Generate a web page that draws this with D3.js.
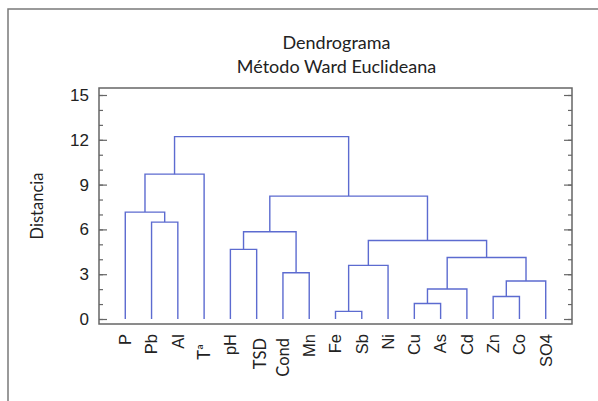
<!DOCTYPE html>
<html>
<head>
<meta charset="utf-8">
<script src="https://cdn.jsdelivr.net/npm/d3@7"></script>
<style>
body { margin: 0; background: #fff; }
text { font-family: "Liberation Sans", Arial, sans-serif; fill: #222; }
.calib { font-family: Lato, "Open Sans", sans-serif; }
</style>
</head>
<body>
<svg id="chart" width="598" height="401"></svg>
<script>
// hojas del dendrograma, en orden de dibujo
const leaves = ["P", "Pb", "Al", "Tª", "pH", "TSD", "Cond", "Mn", "Fe", "Sb", "Ni", "Cu", "As", "Cd", "Zn", "Co", "SO4"];

// uniones tipo linkage: [cluster a, cluster b, distancia]; ids 0-16 = hojas, 17+ = uniones
const merges = [
	[8, 9, 0.51],
	[11, 12, 1.04],
	[14, 15, 1.51],
	[18, 13, 2.01],
	[19, 16, 2.54],
	[6, 7, 3.10],
	[17, 10, 3.59],
	[20, 21, 4.12],
	[4, 5, 4.66],
	[23, 24, 5.26],
	[25, 22, 5.84],
	[1, 2, 6.49],
	[0, 28, 7.16],
	[27, 26, 8.23],
	[29, 3, 9.70],
	[31, 30, 12.21],
];

const yTicks = [0, 3, 6, 9, 12, 15];
const yMinor = d3.range(0, 16);

const svg = d3.select("#chart");
const lineColor = "#5c6bd0";
const frameColor = "#666";

const plot = { left: 99, right: 572, top: 88, bottom: 324 };

const x = d3.scalePoint().domain(leaves).range([plot.left, plot.right]).padding(1);
const y = d3.scaleLinear().domain([0, 15]).range([319, 95]);

// marco exterior
svg.append("rect")
	.attr("x", 8).attr("y", 9)
	.attr("width", 620).attr("height", 420)
	.attr("fill", "none")
	.attr("stroke", "#7a7a7a")
	.attr("stroke-width", 1.5);

// posicion x y altura de cada cluster
const nodes = leaves.map((d) => ({ x: x(d), h: 0 }));
merges.forEach(([a, b, h]) => {
	nodes.push({ x: (nodes[a].x + nodes[b].x) / 2, h: h });
});

// cada union: sube desde a, cruza, baja hasta b
svg.append("g")
	.selectAll("path")
	.data(merges)
	.join("path")
	.attr("fill", "none")
	.attr("stroke", lineColor)
	.attr("stroke-width", 1.4)
	.attr("d", ([a, b, h]) => {
		const na = nodes[a], nb = nodes[b];
		return `M${na.x},${y(na.h)}V${y(h)}H${nb.x}V${y(nb.h)}`;
	});

// ejes izquierda y derecha, ticks hacia dentro
svg.append("g")
	.attr("transform", `translate(${plot.left},0)`)
	.call(d3.axisLeft(y).tickValues(yMinor).tickSize(-4).tickFormat(""))
	.call((s) => s.select(".domain").remove());
svg.append("g")
	.attr("transform", `translate(${plot.left},0)`)
	.call(d3.axisLeft(y).tickValues(yTicks).tickSize(-8).tickPadding(10))
	.call((s) => s.select(".domain").remove())
	.call((s) => s.selectAll("text").style("font-size", "17px").attr("fill", "#222"));
svg.append("g")
	.attr("transform", `translate(${plot.right},0)`)
	.call(d3.axisRight(y).tickValues(yMinor).tickSize(-4).tickFormat(""))
	.call((s) => s.select(".domain").remove());
svg.append("g")
	.attr("transform", `translate(${plot.right},0)`)
	.call(d3.axisRight(y).tickValues(yTicks).tickSize(-8).tickFormat(""))
	.call((s) => s.select(".domain").remove());
svg.selectAll(".tick line").attr("stroke", frameColor).attr("stroke-width", 1.2);

// marco del grafico
svg.append("rect")
	.attr("x", plot.left).attr("y", plot.top)
	.attr("width", plot.right - plot.left).attr("height", plot.bottom - plot.top)
	.attr("fill", "none")
	.attr("stroke", frameColor)
	.attr("stroke-width", 1.5);

// etiquetas de las hojas (algunas van algo desplazadas en el original)
const calibLabels = ["Tª", "TSD", "Cond"];
const shift = { "Tª": [0, 10], "TSD": [4, 4], "Cond": [0, 4] };
svg.append("g")
	.selectAll("text")
	.data(leaves)
	.join("text")
	.attr("class", (d) => (calibLabels.includes(d) ? "calib" : null))
	.attr("transform", (d) => {
		const [dx, dy] = shift[d] || [0, 0];
		return `translate(${x(d) + dx},${plot.bottom + 10 + dy}) rotate(-90)`;
	})
	.attr("text-anchor", "end")
	.attr("dy", "0.35em")
	.style("font-size", "16.5px")
	.text((d) => d);

// titulo
const cx = (plot.left + plot.right) / 2;
svg.append("text")
	.attr("class", "calib")
	.attr("x", cx + 1).attr("y", 49)
	.attr("text-anchor", "middle")
	.style("font-size", "18px")
	.text("Dendrograma");
svg.append("text")
	.attr("class", "calib")
	.attr("x", cx + 1).attr("y", 73)
	.attr("text-anchor", "middle")
	.style("font-size", "18px")
	.text("Método Ward Euclideana");

// eje y titulo
svg.append("text")
	.attr("class", "calib")
	.attr("transform", "translate(43,206) rotate(-90)")
	.attr("text-anchor", "middle")
	.style("font-size", "16.5px")
	.text("Distancia");
</script>
</body>
</html>
